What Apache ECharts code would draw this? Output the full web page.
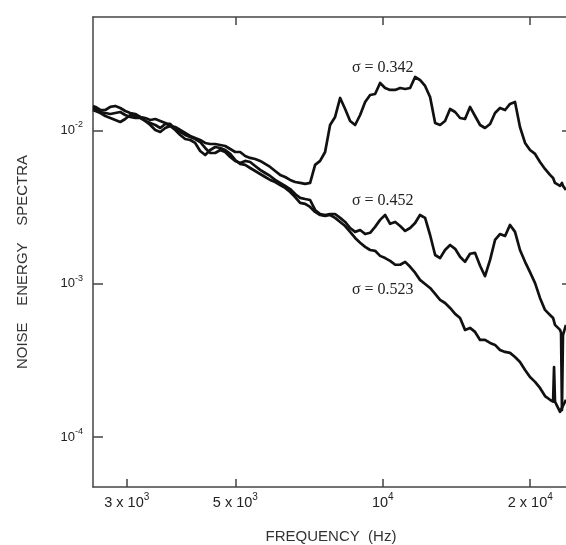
<!DOCTYPE html>
<html><head><meta charset="utf-8">
<script src="https://cdn.jsdelivr.net/npm/echarts@6/dist/echarts.min.js"></script>
<style>html,body{margin:0;padding:0;background:#fff}#c{width:566px;height:545px}</style>
</head><body><div id="c"></div>
<script>
// Frequencies (Hz), shared by the three spectra
const freqHz = [2560,
 2590,2650,2713,2777,2843,2910,2979,3050,3123,3197,
 3273,3351,3431,3512,3596,3680,3768,3858,3949,4043,
 4139,4237,4338,4442,4547,4656,4766,4880,4996,5114,
 5236,5360,5488,5618,5752,5888,6028,6171,6318,6468,
 6622,6779,6941,7105,7274,7447,7624,7805,7991,8183,
 8377,8576,8780,8989,9203,9421,9645,9874,10110,10350,
 10600,10850,11110,11370,11640,11910,12200,12490,12790,13090,
 13400,13720,14050,14380,14720,15070,15430,15800,16170,16560,
 16950,17350,17770,18190,18620,19060,19520,19980,20460,20940,
 21440,21950,
 22270,22370,22470,23010,23120,23220,23330,23660];

// sigma = 0.342
const spectrum0342 = [0.01445,
 0.01424,0.01360,0.01360,0.01424,0.01445,0.01402,0.01340,0.01300,0.01281,0.01225,
 0.01206,0.01171,0.01188,0.01154,0.01119,0.01070,0.01054,0.01008,0.00964,0.00921,
 0.00893,0.00867,0.00829,0.00816,0.00816,0.00804,0.00792,0.00757,0.00724,0.00724,
 0.00682,0.00662,0.00652,0.00633,0.00605,0.00578,0.00544,0.00513,0.00497,0.00476,
 0.00461,0.00455,0.00448,0.00455,0.00596,0.00633,0.00724,0.01086,0.01225,0.01630,
 0.01381,0.01154,0.01086,0.01262,0.01534,0.01705,0.01731,0.02041,0.01894,0.01838,
 0.01838,0.01894,0.01866,0.01894,0.02233,0.02135,0.01952,0.01655,0.01119,0.01086,
 0.01154,0.01381,0.01320,0.01206,0.01188,0.01424,0.01243,0.01086,0.01038,0.01103,
 0.01300,0.01402,0.01360,0.01489,0.01534,0.01054,0.00829,0.00746,0.00703,0.00623,
 0.00561,0.00513,
 0.00490,0.00483,0.00455,0.00435,0.00448,0.00455,0.00435,0.00409];

// sigma = 0.452
const spectrum0452 = [0.01402,
 0.01381,0.01320,0.01300,0.01281,0.01300,0.01320,0.01262,0.01225,0.01206,0.01206,
 0.01154,0.01119,0.01086,0.01038,0.01103,0.01103,0.01023,0.00978,0.00935,0.00907,
 0.00880,0.00841,0.00769,0.00713,0.00713,0.00746,0.00724,0.00672,0.00633,0.00614,
 0.00633,0.00623,0.00587,0.00553,0.00528,0.00505,0.00476,0.00455,0.00435,0.00415,
 0.00385,0.00363,0.00357,0.00352,0.00303,0.00285,0.00281,0.00285,0.00285,0.00269,
 0.00253,0.00231,0.00218,0.00224,0.00211,0.00215,0.00235,0.00261,0.00281,0.00246,
 0.00253,0.00238,0.00221,0.00231,0.00249,0.00281,0.00269,0.00208,0.00154,0.00147,
 0.00166,0.00179,0.00169,0.00150,0.00139,0.00157,0.00159,0.00131,0.00112,0.00143,
 0.00193,0.00211,0.00205,0.00242,0.00218,0.00166,0.00139,0.00119,0.00101,0.000808,
 0.000675,0.000626,
 0.000598,0.000581,0.000539,0.000500,0.000478,0.000150,0.000463,0.000539];

// sigma = 0.523
const spectrum0523 = [0.01360,
 0.01340,0.01300,0.01243,0.01206,0.01171,0.01136,0.01188,0.01262,0.01243,0.01225,
 0.01154,0.01086,0.01008,0.00978,0.01038,0.01070,0.01008,0.00935,0.00880,0.00867,
 0.00829,0.00735,0.00692,0.00746,0.00780,0.00769,0.00746,0.00703,0.00642,0.00605,
 0.00596,0.00569,0.00544,0.00520,0.00497,0.00476,0.00461,0.00441,0.00422,0.00397,
 0.00368,0.00337,0.00332,0.00317,0.00294,0.00281,0.00277,0.00281,0.00269,0.00253,
 0.00238,0.00218,0.00199,0.00185,0.00174,0.00166,0.00164,0.00152,0.00147,0.00141,
 0.00133,0.00133,0.00139,0.00129,0.00118,0.00106,0.000997,0.000939,0.000858,0.000784,
 0.000749,0.000695,0.000636,0.000598,0.000500,0.000515,0.000485,0.000430,0.000430,0.000411,
 0.000399,0.000370,0.000359,0.000354,0.000333,0.000309,0.000274,0.000246,0.000229,0.000209,
 0.000185,0.000175,
 0.000170,0.000286,0.000170,0.000146,0.000150,0.000155,0.000160,0.000175];

// Axis ticks and labels
const xTickValues = [3000, 5000, 10000, 20000];
const xTickMantissa = ['3 x 10', '5 x 10', '10', '2 x 10'];
const xTickExponent = ['3', '3', '4', '4'];
const xTopTickValues = [5000, 10000, 20000];
const yTickValues = [1e-2, 1e-3, 1e-4];
const yTickMantissa = ['10', '10', '10'];
const yTickExponent = ['-2', '-3', '-4'];
const yRightTickValues = [1e-2, 1e-3];

// Curve annotations
const annotationText = ['\u03c3 = 0.342', '\u03c3 = 0.452', '\u03c3 = 0.523'];
const annotationFreq = [10000, 10000, 10000];
const annotationValue = [0.0256, 0.00347, 0.000911];

const xMin = 2560, xMax = 24000, yMin = 4.72e-5, yMax = 0.055;

function idxOf(arr, v) {
  let best = 0, bd = Infinity;
  arr.forEach((a, i) => { const d = Math.abs(Math.log(a) - Math.log(v)); if (d < bd) { bd = d; best = i; } });
  return best;
}

const frameColor = '#444';
const axisLineStyle = { color: frameColor, width: 1.5 };
const sans = '"Liberation Sans", Arial, Helvetica, sans-serif';

const chart = echarts.init(document.getElementById('c'), null, { renderer: 'canvas' });

function mkSeries(name, values) {
  return {
    name, type: 'line', xAxisIndex: 0, yAxisIndex: 0,
    data: freqHz.map((f, i) => [f, values[i]]),
    showSymbol: false, symbol: 'none', smooth: false,
    lineStyle: { color: '#111', width: 2.7, join: 'round' },
    emphasis: { disabled: true }, silent: true
  };
}

const s1 = mkSeries('0.342', spectrum0342);
s1.markPoint = {
  symbol: 'circle', symbolSize: 0, silent: true,
  data: annotationText.map((t, i) => ({ coord: [annotationFreq[i], annotationValue[i]], value: t })),
  label: {
    show: true, position: 'inside', formatter: p => p.data.value,
    fontFamily: '"Liberation Serif", "Times New Roman", serif', fontSize: 16, color: '#222'
  }
};

const option = {
  animation: false,
  backgroundColor: '#fff',
  grid: { left: 93, top: 17, width: 476, height: 470, show: false, containLabel: false, outerBoundsMode: 'none' },
  xAxis: [
    {
      type: 'log', logBase: 10, min: xMin, max: xMax, position: 'bottom',
      axisLine: { show: true, onZero: false, lineStyle: axisLineStyle },
      axisTick: { show: true, inside: true, length: 8, customValues: xTickValues, lineStyle: axisLineStyle },
      minorTick: { show: false }, splitLine: { show: false },
      axisLabel: {
        show: true, customValues: xTickValues, margin: 5, color: '#222',
        formatter: v => { const i = idxOf(xTickValues, v); return '{b|' + xTickMantissa[i] + '}{s|' + xTickExponent[i] + '}'; },
        rich: {
          b: { fontFamily: sans, fontSize: 14.5, color: '#222', lineHeight: 22, verticalAlign: 'middle' },
          s: { fontFamily: sans, fontSize: 10, color: '#222', lineHeight: 10, verticalAlign: 'top' }
        }
      },
      name: 'FREQUENCY  (Hz)', nameLocation: 'middle', nameGap: 42,
      nameTextStyle: { fontFamily: sans, fontSize: 15, color: '#333' }
    },
    {
      type: 'log', logBase: 10, min: xMin, max: xMax, position: 'top',
      axisLine: { show: true, onZero: false, lineStyle: axisLineStyle },
      axisTick: { show: true, inside: true, length: 8, customValues: xTopTickValues, lineStyle: axisLineStyle },
      minorTick: { show: false }, splitLine: { show: false },
      axisLabel: { show: false }
    }
  ],
  yAxis: [
    {
      type: 'log', logBase: 10, min: yMin, max: yMax, position: 'left',
      axisLine: { show: true, onZero: false, lineStyle: axisLineStyle },
      axisTick: { show: true, inside: true, length: 10, customValues: yTickValues, lineStyle: axisLineStyle },
      minorTick: { show: false }, splitLine: { show: false },
      axisLabel: {
        show: true, customValues: yTickValues, margin: 10, color: '#222',
        formatter: v => { const i = idxOf(yTickValues, v); return '{b|' + yTickMantissa[i] + '}{s|' + yTickExponent[i] + '}'; },
        rich: {
          b: { fontFamily: sans, fontSize: 13, color: '#222', lineHeight: 20, verticalAlign: 'middle' },
          s: { fontFamily: sans, fontSize: 9, color: '#222', lineHeight: 9, verticalAlign: 'top' }
        }
      },
      name: 'NOISE    ENERGY    SPECTRA', nameLocation: 'middle', nameGap: 63, nameRotate: 90,
      nameTextStyle: { fontFamily: sans, fontSize: 15, color: '#333', padding: [0, 20, 0, 0] }
    },
    {
      type: 'log', logBase: 10, min: yMin, max: yMax, position: 'right',
      axisLine: { show: false, onZero: false },
      axisTick: { show: true, inside: true, length: 7, customValues: yRightTickValues, lineStyle: axisLineStyle },
      minorTick: { show: false }, splitLine: { show: false },
      axisLabel: { show: false }
    }
  ],
  series: [
    s1,
    mkSeries('0.452', spectrum0452),
    mkSeries('0.523', spectrum0523)
  ]
};
chart.setOption(option);
</script>
</body></html>
